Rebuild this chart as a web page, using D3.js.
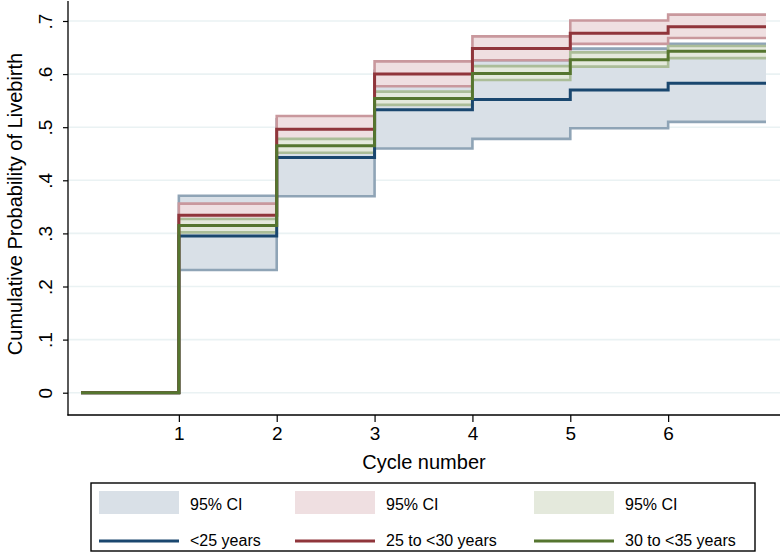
<!DOCTYPE html>
<html>
<head>
<meta charset="utf-8">
<script src="https://cdn.jsdelivr.net/npm/d3@7/dist/d3.min.js"></script>
<style>
  html, body { margin: 0; padding: 0; background: #ffffff; }
  svg { display: block; font-family: "Liberation Sans", Arial, Helvetica, sans-serif; }
</style>
</head>
<body>
<svg id="chart" width="783" height="552"></svg>
<script>
// ---- Data ----
const cycles = [0, 1, 2, 3, 4, 5, 6];       // step start of each interval
const cycleEnd = 7;                          // last step extends to here
const xTicks = [1, 2, 3, 4, 5, 6];
const yTicks = [0, 0.1, 0.2, 0.3, 0.4, 0.5, 0.6, 0.7];

const under25     = [0, 0.295, 0.443, 0.533, 0.552, 0.570, 0.583];
const under25Lo   = [0, 0.231, 0.370, 0.460, 0.478, 0.498, 0.510];
const under25Hi   = [0, 0.371, 0.515, 0.606, 0.626, 0.648, 0.657];

const age25to30   = [0, 0.334, 0.496, 0.600, 0.648, 0.677, 0.689];
const age25to30Lo = [0, 0.311, 0.472, 0.577, 0.626, 0.657, 0.668];
const age25to30Hi = [0, 0.356, 0.521, 0.624, 0.671, 0.701, 0.712];

const age30to35   = [0, 0.315, 0.465, 0.554, 0.601, 0.627, 0.643];
const age30to35Lo = [0, 0.302, 0.452, 0.542, 0.589, 0.614, 0.630];
const age30to35Hi = [0, 0.327, 0.478, 0.567, 0.615, 0.641, 0.653];

const seriesNames = ["<25 years", "25 to <30 years", "30 to <35 years"];
const ciLabel = "95% CI";
const xTitle = "Cycle number";
const yTitle = "Cumulative Probability of Livebirth";

// ---- Styles ----
const lineColors = ["#1a476f", "#90353b", "#55752f"];
const fillColors = ["#d9e0e7", "#efdfe1", "#e4e9dc"];
const edgeColors = ["#8fa4b6", "#c9989d", "#abbd98"];

const series = [
  { mid: under25,   lo: under25Lo,   hi: under25Hi },
  { mid: age25to30, lo: age25to30Lo, hi: age25to30Hi },
  { mid: age30to35, lo: age30to35Lo, hi: age30to35Hi }
];

const svg = d3.select("#chart");

const axisLeftX = 68, axisBottomY = 415, axisRightX = 780, axisTopY = 1;
const x = d3.scaleLinear().domain([0, 7]).range([81, 766]);
const y = d3.scaleLinear().domain([0, 0.7]).range([392.7, 21]);

const fmtY = d => d === 0 ? "0" : d3.format(".1f")(d).replace(/^0/, "");

// gridlines
svg.append("g").selectAll("line").data(yTicks).join("line")
  .attr("x1", axisLeftX).attr("x2", axisRightX)
  .attr("y1", d => y(d)).attr("y2", d => y(d))
  .attr("stroke", "#eaf2f3").attr("stroke-width", 1.6);

function pts(arr) {
  const p = cycles.map((c, i) => [c, arr[i]]);
  p.push([cycleEnd, arr[arr.length - 1]]);
  return p;
}

const line = d3.line().x(d => x(d[0])).y(d => y(d[1])).curve(d3.curveStepAfter);
const area = d3.area().x(d => x(d[0])).y0(d => y(d[1])).y1(d => y(d[2])).curve(d3.curveStepAfter);

// CI areas
series.forEach((s, k) => {
  const data = cycles.map((c, i) => [c, s.lo[i], s.hi[i]]);
  data.push([cycleEnd, s.lo[s.lo.length - 1], s.hi[s.hi.length - 1]]);
  const g = svg.append("g");
  g.append("path").attr("d", area(data)).attr("fill", fillColors[k]).attr("stroke", "none");
  g.append("path").attr("d", line(pts(s.lo))).attr("fill", "none")
    .attr("stroke", edgeColors[k]).attr("stroke-width", 2.6);
  g.append("path").attr("d", line(pts(s.hi))).attr("fill", "none")
    .attr("stroke", edgeColors[k]).attr("stroke-width", 2.6);
});

// estimate lines
series.forEach((s, k) => {
  svg.append("path").attr("d", line(pts(s.mid))).attr("fill", "none")
    .attr("stroke", lineColors[k]).attr("stroke-width", 3);
});

// axes
const yAxis = d3.axisLeft(y).tickValues(yTicks).tickSize(5).tickFormat(fmtY);
const gy = svg.append("g").attr("transform", `translate(${axisLeftX},0)`).call(yAxis);
gy.select(".domain").remove();
gy.selectAll(".tick line").attr("stroke", "#000").attr("stroke-width", 1.2);
gy.selectAll(".tick text")
  .attr("x", 0).attr("y", 0).attr("dy", null)
  .attr("transform", "translate(-16,0) rotate(-90)")
  .attr("text-anchor", "middle")
  .attr("font-size", 19).attr("fill", "#000")
  .attr("font-family", "'Liberation Sans', Arial, sans-serif");

const xAxis = d3.axisBottom(x).tickValues(xTicks).tickSize(7).tickFormat(d3.format("d"));
const gx = svg.append("g").attr("transform", `translate(0,${axisBottomY})`).call(xAxis);
gx.select(".domain").remove();
gx.selectAll(".tick line").attr("stroke", "#000").attr("stroke-width", 1.2);
gx.selectAll(".tick text").attr("y", 25).attr("dy", null)
  .attr("font-size", 19).attr("fill", "#000")
  .attr("font-family", "'Liberation Sans', Arial, sans-serif");

svg.append("line").attr("x1", axisLeftX).attr("x2", axisLeftX)
  .attr("y1", axisTopY).attr("y2", axisBottomY + 0.6)
  .attr("stroke", "#000").attr("stroke-width", 1.3);
svg.append("line").attr("x1", axisLeftX - 0.6).attr("x2", axisRightX)
  .attr("y1", axisBottomY).attr("y2", axisBottomY)
  .attr("stroke", "#000").attr("stroke-width", 1.3);

// titles
svg.append("text").attr("x", 424).attr("y", 469).attr("text-anchor", "middle")
  .attr("font-size", 20).attr("fill", "#000").text(xTitle);
svg.append("text").attr("transform", "translate(22,204) rotate(-90)")
  .attr("text-anchor", "middle").attr("font-size", 20).attr("fill", "#000").text(yTitle);

// legend
const lg = svg.append("g");
lg.append("rect").attr("x", 91).attr("y", 483).attr("width", 664).attr("height", 68)
  .attr("fill", "#fff").attr("stroke", "#000").attr("stroke-width", 1.4);
const colX = [99, 295, 534];
colX.forEach((cx, k) => {
  lg.append("rect").attr("x", cx).attr("y", 491).attr("width", 80).attr("height", 23)
    .attr("fill", fillColors[k]);
  lg.append("text").attr("x", cx + 91).attr("y", 510).attr("font-size", 16)
    .attr("fill", "#000").text(ciLabel);
  lg.append("line").attr("x1", cx).attr("x2", cx + 80).attr("y1", 541).attr("y2", 541)
    .attr("stroke", lineColors[k]).attr("stroke-width", 3);
  lg.append("text").attr("x", cx + 91).attr("y", 546).attr("font-size", 16)
    .attr("fill", "#000").text(seriesNames[k]);
});
</script>
</body>
</html>
